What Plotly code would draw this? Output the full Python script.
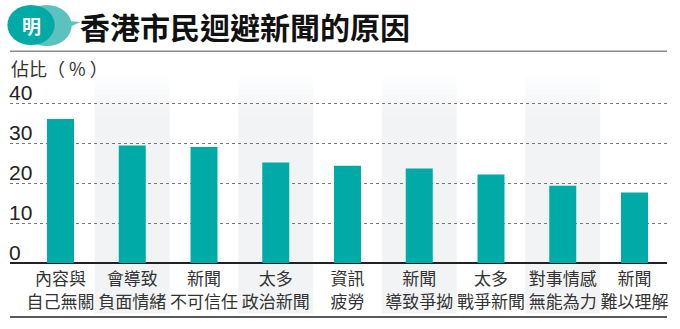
import plotly.graph_objects as go

categories = ["內容與<br>自己無關", "會導致<br>負面情緒", "新聞<br>不可信任", "太多<br>政治新聞",
              "資訊<br>疲勞", "新聞<br>導致爭拗", "太多<br>戰爭新聞", "對事情感<br>無能為力", "新聞<br>難以理解"]
values = [36.0, 29.4, 29.0, 25.1, 24.3, 23.6, 22.1, 19.3, 17.6]
y_ticks = [0, 10, 20, 30, 40]

line1 = [c.split("<br>")[0] for c in categories]
line2 = [c.split("<br>")[1] for c in categories]

TEAL = "#00aaa6"
BAND = "#f2f3f5"
CJK = "Noto Sans CJK TC"

x_idx = list(range(len(categories)))

Y_MIN, Y_TOP = -1, 50
PX = 4.0
PLOT_H = (Y_TOP - Y_MIN) * PX
ZERO_PX = 262.7  # pixel row of the zero line
EXTRA = int(-Y_MIN * PX)  # pixels of plot area below the zero line
BOTTOM_MARGIN = 329 - (ZERO_PX + EXTRA)

def py(pix_from_zero):
    return (pix_from_zero + EXTRA) / PLOT_H

fig = go.Figure()
fig.add_trace(go.Bar(x=x_idx, y=values, width=0.376, marker=dict(color=TEAL, line=dict(width=0)),
                     hoverinfo="skip"))
fig.add_trace(go.Scatter(x=x_idx, y=[None] * len(x_idx), xaxis="x2", mode="markers",
                         hoverinfo="skip", showlegend=False))

shapes = []
for i in x_idx:
    if i % 2 == 1:
        x0, x1 = i - 0.522, i + 0.522
        shapes.append(dict(type="rect", xref="x", yref="paper", x0=x0, x1=x1, y0=py(-50.5), y1=py(150),
                           fillcolor=BAND, line=dict(width=0), layer="below"))
        steps = 6
        for s in range(steps):
            shapes.append(dict(type="rect", xref="x", yref="paper", x0=x0, x1=x1,
                               y0=py(150 + s * 6), y1=py(150 + (s + 1) * 6),
                               fillcolor=BAND, opacity=1 - (s + 1) / (steps + 1),
                               line=dict(width=0), layer="below"))
shapes.append(dict(type="line", xref="paper", yref="paper", x0=0, x1=1, y0=py(-54), y1=py(-54),
                   line=dict(color="#222", width=1.5)))
shapes.append(dict(type="line", xref="paper", yref="paper", x0=0, x1=1, y0=py(211.7), y1=py(211.7),
                   line=dict(color="#8a8a8a", width=1.5)))
# logo bubble
shapes.append(dict(type="path", xref="paper", yref="paper", layer="above",
                   path=f"M 0.07 {py(243)} L 0.107 {py(241)} L 0.075 {py(231)} Z",
                   fillcolor="#5cc2bf", line=dict(width=0)))
shapes.append(dict(type="circle", xref="paper", yref="paper", x0=0.018, x1=0.094, y0=py(217), y1=py(258),
                   fillcolor="#5cc2bf", line=dict(width=0)))
shapes.append(dict(type="circle", xref="paper", yref="paper", x0=-0.004, x1=0.068, y0=py(218), y1=py(258),
                   fillcolor=TEAL, line=dict(width=0)))
fig.update_layout(shapes=shapes)

fig.add_annotation(text="<b>明</b>", xref="paper", yref="paper", x=0.032, y=py(237.5), showarrow=False,
                   font=dict(family=CJK, size=19, color="white"), xanchor="center", yanchor="middle")
fig.add_annotation(text="<b>香港市民迴避新聞的原因</b>", xref="paper", yref="paper", x=0.104, y=py(237),
                   showarrow=False, font=dict(family=CJK, size=30, color="#111"),
                   xanchor="left", yanchor="middle")
fig.add_annotation(text="佔比（ % ）", xref="paper", yref="paper", x=-0.002, y=py(195.5), showarrow=False,
                   font=dict(family=CJK, size=18, color="#333"), xanchor="left", yanchor="middle")

common_x = dict(range=[-0.704, 8.453], tickmode="array", tickvals=x_idx,
                showgrid=False, zeroline=False, showline=False, ticks="", fixedrange=True)
fig.update_layout(
    xaxis=dict(ticktext=line1, tickfont=dict(family=CJK, size=17, color="#333"),
               ticklabelstandoff=max(0, 4 - EXTRA), **common_x),
    xaxis2=dict(ticktext=line2, tickfont=dict(family=CJK, size=17, color="#333"),
                overlaying="x", side="bottom", anchor="y",
                ticklabelstandoff=27 - EXTRA, **common_x),
)
fig.update_yaxes(range=[Y_MIN, Y_TOP], tickmode="array", tickvals=y_ticks, ticktext=[str(v) for v in y_ticks],
                 ticklabelposition="inside top", ticklabelstandoff=-4, ticklabelshift=4,
                 tickfont=dict(family="Liberation Sans, Arial", size=21, color="#222"),
                 showgrid=True, gridcolor="#777", griddash="dot", gridwidth=1,
                 zeroline=True, zerolinecolor="#222", zerolinewidth=2, showline=False, ticks="",
                 fixedrange=True)

fig.update_layout(width=680, height=329,
                  margin=dict(l=10, r=13, t=329 - BOTTOM_MARGIN - PLOT_H, b=BOTTOM_MARGIN),
                  paper_bgcolor="white", plot_bgcolor="rgba(0,0,0,0)", showlegend=False,
                  bargap=0.6)

fig.write_html("out.html", config={"displayModeBar": False})
